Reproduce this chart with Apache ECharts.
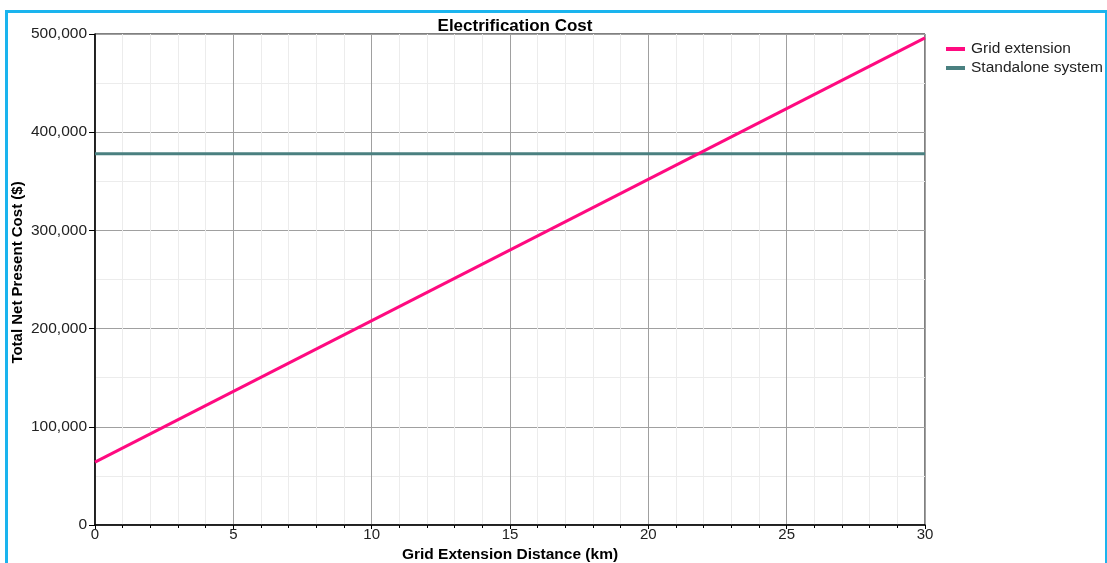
<!DOCTYPE html>
<html>
<head>
<meta charset="utf-8">
<script src="https://cdn.jsdelivr.net/npm/echarts@6/dist/echarts.min.js"></script>
<style>
  html, body { margin: 0; padding: 0; background: #fff; }
  #frame { position: absolute; left: 5px; top: 10px; width: 1097px; height: 551px;
           border: 3px solid #1ab4ee; border-bottom: 2px solid #d8f2fc; box-sizing: content-box; }
  #chart { position: absolute; left: 0; top: 0; width: 1107px; height: 563px; }
</style>
</head>
<body>
<div id="frame"></div>
<div id="chart"></div>
<script>
// Grid extension distance (km) and total net present cost ($)
const distanceKm = [0, 30];
const gridExtensionCost = [64000, 496000];
const standaloneCost = [378000, 378000];
const seriesNames = ['Grid extension', 'Standalone system'];

const chart = echarts.init(document.getElementById('chart'));
const font = '"Liberation Sans", Arial, sans-serif';

chart.setOption({
  animation: false,
  title: {
    text: 'Electrification Cost',
    left: 510, top: 13, textAlign: 'center',
    textStyle: { fontFamily: font, fontSize: 17, fontWeight: 'bold', color: '#000' }
  },
  legend: {
    orient: 'vertical', left: 941, top: 36, itemWidth: 19, itemHeight: 4, itemGap: 3,
    icon: 'rect',
    textStyle: { fontFamily: font, fontSize: 15.5, color: '#222', padding: [0, 0, 0, 1] },
    data: seriesNames
  },
  grid: {
    left: 95, top: 34, width: 830, height: 491,
    outerBoundsMode: 'none', containLabel: false,
    show: true, borderColor: '#000', borderWidth: 1, backgroundColor: 'transparent'
  },
  xAxis: {
    type: 'value', min: 0, max: 30, interval: 5,
    name: 'Grid Extension Distance (km)', nameLocation: 'middle', nameGap: 22,
    nameMoveOverlap: false,
    nameTextStyle: { fontFamily: font, fontSize: 15.5, fontWeight: 'bold', color: '#000' },
    axisLine: { show: true, lineStyle: { color: '#000', width: 1.5 } },
    axisTick: { show: true, length: 4, lineStyle: { color: '#000' } },
    axisLabel: { fontFamily: font, fontSize: 15, color: '#222', margin: 2 },
    splitLine: { show: true, lineStyle: { color: '#a0a0a0', width: 1 } },
    minorTick: { show: true, splitNumber: 5, length: 3, lineStyle: { color: '#000' } },
    minorSplitLine: { show: true, lineStyle: { color: '#ececec', width: 1 } }
  },
  yAxis: {
    type: 'value', min: 0, max: 500000, interval: 100000,
    name: 'Total Net Present Cost ($)', nameLocation: 'middle', nameGap: 70,
    nameMoveOverlap: false,
    nameTextStyle: { fontFamily: font, fontSize: 15, fontWeight: 'bold', color: '#000',
                     padding: [0, 0, 0, 14] },
    axisLine: { show: true, lineStyle: { color: '#000', width: 1.5 } },
    axisTick: { show: true, length: 6, lineStyle: { color: '#000' } },
    axisLabel: {
      fontFamily: font, fontSize: 15.5, color: '#222', margin: 8,
      formatter: v => v.toLocaleString('en-US')
    },
    splitLine: { show: true, lineStyle: { color: '#a0a0a0', width: 1 } },
    minorTick: { show: false, splitNumber: 2 },
    minorSplitLine: { show: true, lineStyle: { color: '#ececec', width: 1 } }
  },
  series: [
    {
      name: seriesNames[0], type: 'line', showSymbol: false,
      data: distanceKm.map((d, i) => [d, gridExtensionCost[i]]),
      lineStyle: { color: '#ff0a80', width: 3 }, itemStyle: { color: '#ff0a80' }, z: 3
    },
    {
      name: seriesNames[1], type: 'line', showSymbol: false,
      data: distanceKm.map((d, i) => [d, standaloneCost[i]]),
      lineStyle: { color: '#4a8080', width: 3 }, itemStyle: { color: '#4a8080' }, z: 2
    }
  ]
});
</script>
</body>
</html>
